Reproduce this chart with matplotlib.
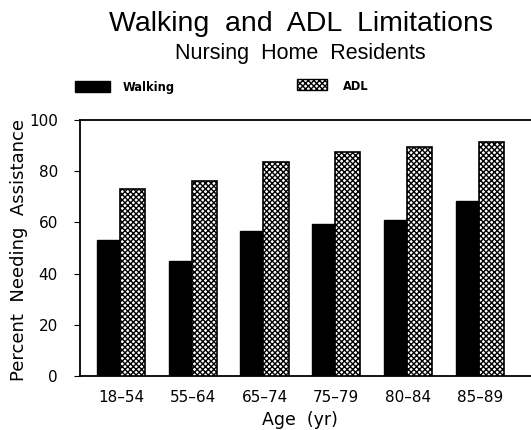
import matplotlib
matplotlib.use("Agg")
import matplotlib.pyplot as plt
import numpy as np
from matplotlib.patches import Rectangle

categories = ["18-54", "55-64", "65-74", "75-79", "80-84", "85-89"]
walking = [53, 45, 56.5, 59.5, 61, 68.5]
adl = [73, 76, 83.5, 87.5, 89.5, 91.5]
yticks = [0, 20, 40, 60, 80, 100]

fig = plt.figure(figsize=(5.31, 4.30), dpi=100)
ax = fig.add_axes([80/531, 54/430, (545-80)/531, 256/430])

x = np.arange(len(categories))
w = 0.35
ax.bar(x - 0.16, walking, width=w, color="black", edgecolor="black", zorder=2, label="Walking")
ax.bar(x + 0.16, adl, width=w, color="white", edgecolor="black", hatch="xxxxxx", linewidth=1.2, zorder=3, label="ADL")

ax.set_xlim(-0.572, 5.91)
ax.set_ylim(0, 100)
ax.set_yticks(yticks)
ax.set_yticklabels([str(v) for v in yticks], fontsize=11)
ax.set_xticks(x)
ax.set_xticklabels([c.replace("-", "\u2013") for c in categories], fontsize=11)
ax.tick_params(axis="x", length=0, pad=10)
ax.tick_params(axis="y", length=4, direction="out", pad=12)
for s in ax.spines.values():
    s.set_linewidth(1.3)

fig.text(300/531, 1 - 420/430, "Age  (yr)", fontsize=12.5, ha="center", va="center")
fig.text(19/531, 1 - 250/430, "Percent  Needing  Assistance", rotation=90, fontsize=13,
         ha="center", va="center")

fig.text(301/531, 1 - 24/430, "Walking  and  ADL  Limitations", fontsize=20.5,
         family="Liberation Sans", ha="center", va="center")
fig.text(300/531, 1 - 53/430, "Nursing  Home  Residents", fontsize=15.5,
         family="Liberation Sans", ha="center", va="center")

# legend
fig.patches.append(Rectangle((75/531, 1 - 92/430), 35/531, 11/430,
                   transform=fig.transFigure, facecolor="black", edgecolor="black"))
fig.text(123/531, 1 - 87/430, "Walking", fontsize=8.3, fontweight="bold", va="center")
fig.patches.append(Rectangle((297/531, 1 - 90/430), 30/531, 11/430,
                   transform=fig.transFigure, facecolor="white", edgecolor="black", hatch="xxxxxx"))
fig.text(343/531, 1 - 86/430, "ADL", fontsize=8.3, fontweight="bold", va="center")

fig.savefig("out.png", dpi=100)
